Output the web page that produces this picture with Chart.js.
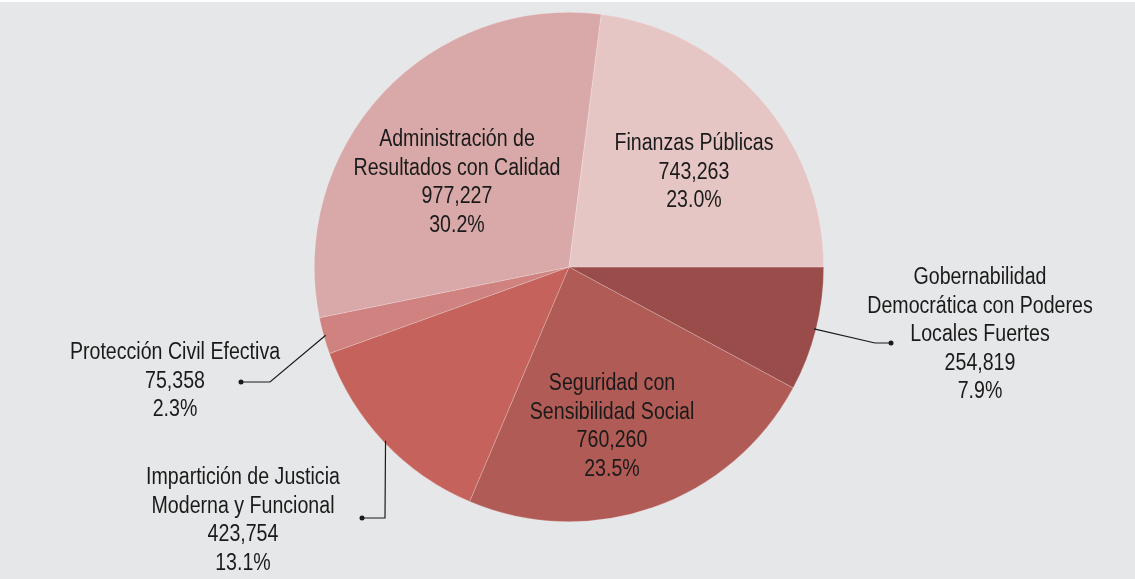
<!DOCTYPE html>
<html>
<head>
<meta charset="utf-8">
<script src="https://cdn.jsdelivr.net/npm/chart.js@4"></script>
<style>
  html, body { margin: 0; padding: 0; background: #ffffff; }
  #wrap { position: absolute; left: 0; top: 2px; width: 1135px; height: 577px; background: #e6e7e8; }
</style>
</head>
<body>
<div id="wrap"><canvas id="pieChart" width="1135" height="577"></canvas></div>
<script>
// slices in drawing order, clockwise from 3 o'clock
const programas = [
  ['Gobernabilidad', 'Democrática con Poderes', 'Locales Fuertes'],
  ['Seguridad con', 'Sensibilidad Social'],
  ['Impartición de Justicia', 'Moderna y Funcional'],
  ['Protección Civil Efectiva'],
  ['Administración de', 'Resultados con Calidad'],
  ['Finanzas Públicas']
];
const montos = [254819, 760260, 423754, 75358, 977227, 743263];
const porcentajes = ['7.9%', '23.5%', '13.1%', '2.3%', '30.2%', '23.0%'];
const colores = ['#9a4c4a', '#b05b55', '#c4625b', '#cf827f', '#d9a8a8', '#e5c6c5'];

// where each label block sits, and the elbow of its leader line (if any)
const etiquetas = [
  { x: 980, y: 276, leader: [[875, 341], [891, 341]] },
  { x: 612, y: 382 },
  { x: 243, y: 476, leader: [[385, 516], [362, 516]] },
  { x: 175, y: 351, leader: [[270, 380], [241, 380]] },
  { x: 457, y: 138 },
  { x: 694, y: 142 }
];

const fmt = n => n.toLocaleString('en-US');

const labelPlugin = {
  id: 'sliceLabels',
  afterDatasetsDraw(chart) {
    const ctx = chart.ctx;
    const arcs = chart.getDatasetMeta(0).data;
    ctx.save();
    ctx.font = '23px Arial, "Liberation Sans", sans-serif';
    // condensed look: squeeze text horizontally
    const sx = 159 / ctx.measureText('Finanzas Públicas').width;
    ctx.fillStyle = '#1a1a1a';
    ctx.textAlign = 'center';
    ctx.textBaseline = 'middle';
    const lh = 28.5;
    etiquetas.forEach((lab, i) => {
      const lines = programas[i].concat([fmt(montos[i]), porcentajes[i]]);
      lines.forEach((t, k) => {
        ctx.save();
        ctx.translate(lab.x, lab.y + k * lh);
        ctx.scale(sx, 1);
        ctx.fillText(t, 0, 0);
        ctx.restore();
      });
      if (lab.leader) {
        const a = arcs[i];
        const mid = (a.startAngle + a.endAngle) / 2;
        const r = a.outerRadius - 2;
        ctx.beginPath();
        ctx.strokeStyle = '#1a1a1a';
        ctx.lineWidth = 1.2;
        ctx.moveTo(a.x + r * Math.cos(mid), a.y + r * Math.sin(mid));
        lab.leader.forEach(p => ctx.lineTo(p[0], p[1]));
        ctx.stroke();
        const end = lab.leader[lab.leader.length - 1];
        ctx.beginPath();
        ctx.arc(end[0], end[1], 2.5, 0, Math.PI * 2);
        ctx.fill();
      }
    });
    ctx.restore();
  }
};

new Chart(document.getElementById('pieChart').getContext('2d'), {
  type: 'pie',
  data: {
    labels: programas.map(p => p.join(' ')),
    datasets: [{
      data: montos,
      backgroundColor: colores,
      borderColor: 'rgba(255,255,255,0.35)',
      borderWidth: 0.6
    }]
  },
  options: {
    responsive: false,
    animation: false,
    rotation: 90,
    layout: { padding: { top: 10, bottom: 57, left: 3, right: 0 } },
    plugins: {
      legend: { display: false },
      tooltip: { enabled: false }
    }
  },
  plugins: [labelPlugin]
});
</script>
</body>
</html>
